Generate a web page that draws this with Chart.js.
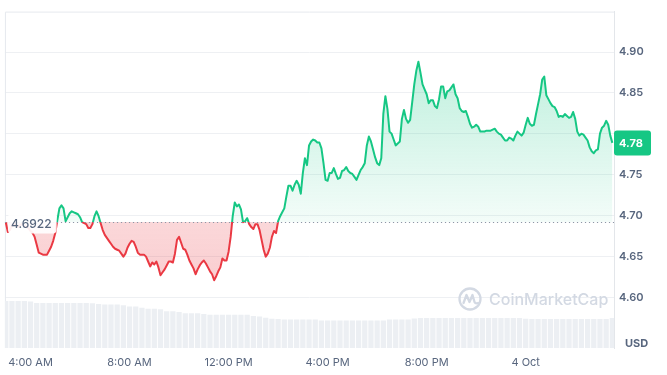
<!DOCTYPE html>
<html>
<head>
<meta charset="utf-8">
<script src="https://cdn.jsdelivr.net/npm/chart.js@4.4.1/dist/chart.umd.min.js"></script>
<style>
  html, body { margin: 0; padding: 0; background: #fff; }
  #wrap { width: 667px; height: 375px; position: relative; }
</style>
</head>
<body>
<div id="wrap"><canvas id="priceChart"></canvas></div>
<script>
// price sampled every 5 minutes from 3:00 AM (minutes after midnight, 3 Oct)
const startMinute = 180;
const priceStep = 5;
const prices = [
  4.6919, 4.6799, 4.6823, 4.6871, 4.6895, 4.6883, 4.6859, 4.6883, 4.6895, 4.6871,
  4.6859, 4.6847, 4.6811, 4.6787, 4.6739, 4.6643, 4.6546, 4.6534, 4.6522, 4.6522,
  4.6522, 4.6570, 4.6619, 4.6691, 4.6787, 4.6943, 4.7088, 4.7124, 4.7088, 4.6931,
  4.6980, 4.7028, 4.7052, 4.7040, 4.7028, 4.7016, 4.6980, 4.6919, 4.6907, 4.6895,
  4.6847, 4.6847, 4.6895, 4.6992, 4.7052, 4.6992, 4.6907, 4.6823, 4.6763, 4.6727,
  4.6691, 4.6655, 4.6619, 4.6594, 4.6582, 4.6570, 4.6534, 4.6498, 4.6534, 4.6606,
  4.6655, 4.6691, 4.6679, 4.6619, 4.6546, 4.6522, 4.6522, 4.6522, 4.6498, 4.6438,
  4.6378, 4.6426, 4.6402, 4.6438, 4.6366, 4.6270, 4.6306, 4.6342, 4.6390, 4.6438,
  4.6438, 4.6426, 4.6534, 4.6703, 4.6739, 4.6667, 4.6594, 4.6582, 4.6522, 4.6450,
  4.6402, 4.6354, 4.6282, 4.6342, 4.6390, 4.6426, 4.6450, 4.6414, 4.6366, 4.6318,
  4.6282, 4.6209, 4.6258, 4.6318, 4.6366, 4.6474, 4.6450, 4.6450, 4.6558, 4.6739,
  4.6992, 4.7160, 4.7112, 4.7136, 4.7076, 4.6919, 4.6931, 4.6968, 4.6895, 4.6859,
  4.6835, 4.6895, 4.6895, 4.6823, 4.6703, 4.6582, 4.6498, 4.6534, 4.6606, 4.6739,
  4.6811, 4.6787, 4.6931, 4.6992, 4.7040, 4.7088, 4.7232, 4.7365, 4.7365, 4.7304,
  4.7377, 4.7425, 4.7377, 4.7268, 4.7521, 4.7702, 4.7617, 4.7858, 4.7906, 4.7930,
  4.7918, 4.7894, 4.7894, 4.7822, 4.7641, 4.7437, 4.7425, 4.7521, 4.7521, 4.7581,
  4.7509, 4.7449, 4.7461, 4.7545, 4.7557, 4.7593, 4.7545, 4.7521, 4.7509, 4.7473,
  4.7437, 4.7497, 4.7557, 4.7593, 4.7641, 4.7858, 4.7966, 4.7906, 4.7810, 4.7714,
  4.7641, 4.7617, 4.7702, 4.8243, 4.8460, 4.8303, 4.8027, 4.8002, 4.7930, 4.7858,
  4.7882, 4.7906, 4.8183, 4.8291, 4.8183, 4.8135, 4.8171, 4.8388, 4.8604, 4.8773,
  4.8881, 4.8749, 4.8604, 4.8544, 4.8484, 4.8375, 4.8412, 4.8412, 4.8339, 4.8315,
  4.8424, 4.8580, 4.8580, 4.8436, 4.8520, 4.8532, 4.8568, 4.8604, 4.8484, 4.8436,
  4.8315, 4.8279, 4.8267, 4.8279, 4.8207, 4.8123, 4.8075, 4.8087, 4.8111, 4.8087,
  4.8027, 4.8027, 4.8027, 4.8039, 4.8039, 4.8039, 4.8051, 4.8063, 4.8027, 4.8002,
  4.7990, 4.7954, 4.7918, 4.7918, 4.7954, 4.7942, 4.7918, 4.7978, 4.8027, 4.8002,
  4.7978, 4.8014, 4.8111, 4.8195, 4.8123, 4.8099, 4.8111, 4.8243, 4.8363, 4.8484,
  4.8664, 4.8700, 4.8472, 4.8424, 4.8375, 4.8339, 4.8327, 4.8279, 4.8207, 4.8219,
  4.8207, 4.8243, 4.8219, 4.8195, 4.8207, 4.8267, 4.8183, 4.8027, 4.7978, 4.8002,
  4.7990, 4.7954, 4.7918, 4.7834, 4.7786, 4.7762, 4.7798, 4.7810, 4.8002, 4.8075,
  4.8099, 4.8159, 4.8111, 4.7978, 4.7889
];

// 24h volume (millions) sampled every 15 minutes from the same start
const volumeStep = 15;
const volumes = [
  14.0, 14.0, 14.0, 14.0, 13.8, 13.4, 13.4, 13.4, 13.4, 13.4,
  13.4, 13.4, 13.4, 13.4, 13.3, 13.1, 12.9, 12.9, 12.9, 12.7,
  12.3, 12.3, 12.0, 11.7, 11.7, 11.5, 10.9, 10.9, 10.7, 10.3,
  10.3, 10.3, 10.1, 9.9, 9.9, 9.9, 9.9, 9.9, 9.9, 9.9,
  9.5, 9.4, 9.0, 8.7, 8.6, 8.5, 8.5, 8.5, 8.5, 8.5,
  8.5, 8.2, 8.2, 8.2, 8.2, 8.2, 8.2, 8.2, 8.2, 8.2,
  8.2, 8.2, 8.5, 8.5, 8.5, 8.5, 8.8, 8.9, 8.9, 8.9,
  8.9, 8.9, 8.9, 8.9, 8.9, 8.9, 8.9, 8.9, 8.9, 8.9,
  8.9, 8.9, 8.9, 8.9, 8.7, 8.6, 8.6, 8.6, 8.6, 8.6,
  8.6, 8.6, 8.6, 8.6, 8.6, 8.6, 8.6, 8.6, 8.9
];

const openPrice = 4.6922;
const yTicks = [4.60, 4.65, 4.70, 4.75, 4.80, 4.85, 4.90];
const xTickMinutes = [240, 480, 720, 960, 1200, 1440];
const xTickLabels = ['4:00 AM', '8:00 AM', '12:00 PM', '4:00 PM', '8:00 PM', '4 Oct'];

const GREEN = '#16c784';
const RED = '#ea3943';
const TEXT = '#58667e';

const lastPrice = prices[prices.length - 1];
const pricePoints = prices.map((p, i) => ({ x: startMinute + i * priceStep, y: p }));
const volumePoints = volumes.map((v, i) => ({ x: startMinute + i * volumeStep, y: v }));

// where the open price sits inside the chart area, 0 = top, 1 = bottom
function splitAt(chart) {
  const a = chart.chartArea;
  const t = (chart.scales.y.getPixelForValue(openPrice) - a.top) / (a.bottom - a.top);
  return Math.min(1, Math.max(0, t));
}

function lineColor(c) {
  const chart = c.chart;
  if (!chart.chartArea) return GREEN;
  const a = chart.chartArea, t = splitAt(chart);
  const g = chart.ctx.createLinearGradient(0, a.top, 0, a.bottom);
  g.addColorStop(0, GREEN);
  g.addColorStop(t, GREEN);
  g.addColorStop(t, RED);
  g.addColorStop(1, RED);
  return g;
}

function areaColor(c) {
  const chart = c.chart;
  if (!chart.chartArea) return 'rgba(22,199,132,0.15)';
  const a = chart.chartArea, t = splitAt(chart);
  const g = chart.ctx.createLinearGradient(0, a.top, 0, a.bottom);
  g.addColorStop(0, 'rgba(22,199,132,0.34)');
  g.addColorStop(t, 'rgba(22,199,132,0.05)');
  g.addColorStop(t, 'rgba(234,57,67,0.2)');
  g.addColorStop(1, 'rgba(234,57,67,0.3)');
  return g;
}

// hide the axis label that sits under the last price badge
function yTickColor(c) {
  const y = c.chart.scales.y;
  if (!y || !c.tick) return TEXT;
  return Math.abs(y.getPixelForValue(c.tick.value) - y.getPixelForValue(lastPrice)) < 14 ? 'rgba(0,0,0,0)' : TEXT;
}

const overlay = {
  id: 'overlay',
  beforeDatasetsDraw(chart) {
    const { ctx, chartArea: a } = chart;
    ctx.save();
    ctx.strokeStyle = '#e6e9ee';
    ctx.lineWidth = 1;
    ctx.beginPath();
    ctx.moveTo(a.left + 0.5, a.bottom);
    ctx.lineTo(a.left + 0.5, a.top + 0.5);
    ctx.lineTo(a.right, a.top + 0.5);
    ctx.stroke();

    // watermark
    const cx = a.right - 144, cy = a.bottom - 49;
    ctx.strokeStyle = '#d3d9e3';
    ctx.lineWidth = 2.3;
    ctx.lineJoin = 'round';
    ctx.lineCap = 'round';
    ctx.beginPath();
    ctx.arc(cx, cy, 10.5, 0, Math.PI * 2);
    ctx.stroke();
    ctx.beginPath();
    ctx.moveTo(cx - 6.5, cy + 4);
    ctx.lineTo(cx - 3.5, cy - 4);
    ctx.lineTo(cx - 0.5, cy + 3);
    ctx.lineTo(cx + 2.5, cy - 4);
    ctx.lineTo(cx + 4.5, cy + 3);
    ctx.quadraticCurveTo(cx + 5.5, cy + 5, cx + 8, cy + 4);
    ctx.stroke();
    ctx.fillStyle = '#d3d9e3';
    ctx.font = '500 16px Inter';
    ctx.textBaseline = 'middle';
    ctx.textAlign = 'left';
    ctx.fillText('CoinMarketCap', cx + 19, cy + 1);
    ctx.restore();
  },
  afterDatasetsDraw(chart) {
    const { ctx, chartArea: a } = chart;
    const y = chart.scales.y;
    ctx.save();

    // open price reference line
    const by = Math.round(y.getPixelForValue(openPrice)) + 0.5;
    ctx.strokeStyle = '#8d96a6';
    ctx.lineWidth = 1;
    ctx.setLineDash([1.2, 2.8]);
    ctx.beginPath();
    ctx.moveTo(a.left, by);
    ctx.lineTo(a.right, by);
    ctx.stroke();
    ctx.setLineDash([]);

    ctx.font = '500 12px Inter';
    ctx.textBaseline = 'middle';
    ctx.textAlign = 'left';
    const openText = openPrice.toFixed(4);
    const tw = ctx.measureText(openText).width;
    ctx.fillStyle = 'rgba(255,255,255,0.92)';
    ctx.beginPath();
    ctx.roundRect(a.left + 3, by - 9, tw + 8, 20, 4);
    ctx.fill();
    ctx.fillStyle = TEXT;
    ctx.fillText(openText, a.left + 6, by + 1.5);

    // last price badge
    const ly = y.getPixelForValue(lastPrice);
    ctx.fillStyle = GREEN;
    ctx.beginPath();
    ctx.roundRect(a.right, ly - 12.5, 37, 25, 3);
    ctx.fill();
    ctx.fillStyle = '#fff';
    ctx.font = '700 11px Inter';
    ctx.fillText((Math.floor(lastPrice * 100) / 100).toFixed(2), a.right + 5, ly + 0.5);

    ctx.fillStyle = TEXT;
    ctx.font = '700 11px Inter';
    ctx.fillText('USD', a.right + 11, a.bottom - 4);
    ctx.restore();
  }
};

new Chart(document.getElementById('priceChart'), {
  type: 'line',
  data: {
    datasets: [
      {
        label: 'Price',
        data: pricePoints,
        borderColor: lineColor,
        backgroundColor: areaColor,
        borderWidth: 2,
        pointRadius: 0,
        tension: 0,
        borderJoinStyle: 'round',
        fill: { target: { value: openPrice } },
        order: 0
      },
      {
        type: 'bar',
        label: 'Volume',
        data: volumePoints,
        yAxisID: 'yVol',
        backgroundColor: '#eceff3',
        barPercentage: 0.85,
        categoryPercentage: 1,
        order: 1
      }
    ]
  },
  options: {
    responsive: true,
    maintainAspectRatio: false,
    animation: false,
    layout: { padding: { left: 3, top: 6, right: 0, bottom: 0 } },
    plugins: { legend: { display: false }, tooltip: { enabled: false } },
    scales: {
      x: {
        type: 'linear',
        min: 178,
        max: 1654,
        offset: false,
        grid: { display: false, drawTicks: false },
        border: { display: false },
        afterBuildTicks: s => { s.ticks = xTickMinutes.map(v => ({ value: v })); },
        afterFit: s => { s.height = 27; },
        ticks: {
          autoSkip: false,
          maxRotation: 0,
          padding: 8,
          color: TEXT,
          font: { family: 'Inter', size: 11 },
          callback: v => xTickLabels[xTickMinutes.indexOf(v)] || ''
        }
      },
      y: {
        position: 'right',
        min: 4.538,
        max: 4.9495,
        afterBuildTicks: s => { s.ticks = yTicks.map(v => ({ value: v })); },
        afterFit: s => { s.width = 53; },
        grid: { color: '#eef0f3', drawTicks: false },
        border: { display: true, color: '#e3e6ea' },
        ticks: {
          padding: 5,
          color: yTickColor,
          font: { family: 'Inter', size: 11, weight: '600' },
          callback: v => v.toFixed(2)
        }
      },
      yVol: { display: false, min: 0, max: 100 }
    }
  },
  plugins: [overlay]
});
</script>
</body>
</html>
